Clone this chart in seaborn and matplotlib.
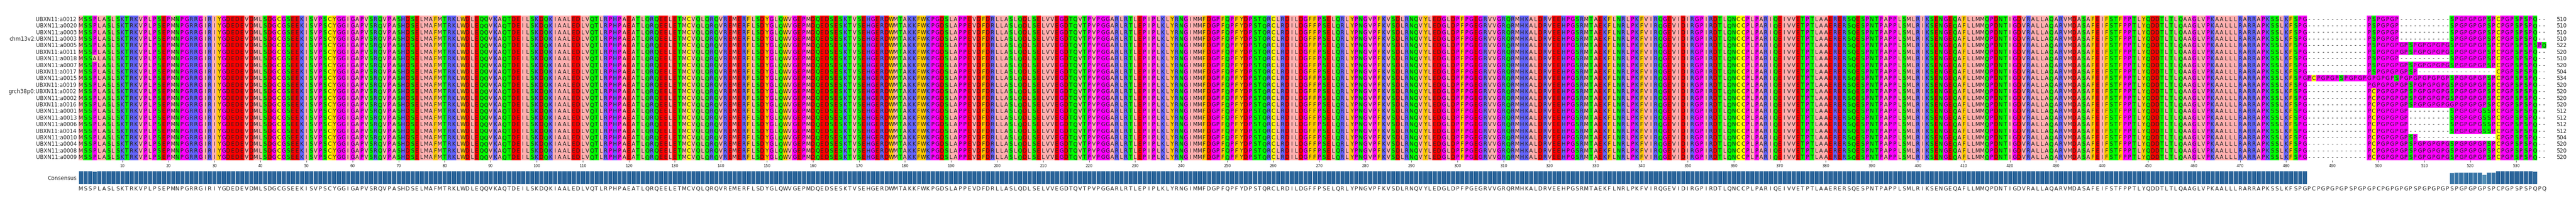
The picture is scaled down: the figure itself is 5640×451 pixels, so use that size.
import numpy as np
import matplotlib
matplotlib.use("Agg")
import matplotlib.pyplot as plt
from matplotlib.colors import ListedColormap
import seaborn as sns

NCOL = 536
names = ["UBXN11:a0012", "UBXN11:a0020", "UBXN11:a0003", "chm13v2:UBXN11:a0003",
         "UBXN11:a0005", "UBXN11:a0011", "UBXN11:a0018", "UBXN11:a0007",
         "UBXN11:a0017", "UBXN11:a0015", "UBXN11:a0019", "grch38p0:UBXN11:a0002",
         "UBXN11:a0002", "UBXN11:a0016", "UBXN11:a0001", "UBXN11:a0013",
         "UBXN11:a0006", "UBXN11:a0014", "UBXN11:a0010", "UBXN11:a0004",
         "UBXN11:a0008", "UBXN11:a0009"]
lengths = [510, 510, 510, 510, 522, 520, 510, 520, 504, 534, 520, 520,
           520, 520, 512, 512, 512, 512, 504, 520, 520, 520]

consensus = ("MSSPLASLSKTRKVPLPSEPMNPGRRGIRIYGDEDEVDMLSDGCGSEEKISVPSCYGGIGAPVSRQVPA"
             "SHDSELMAFMTRKLWDLEQQVKAQTDEILSKDQKIAALEDLVQTLRPHPAEATLQRQEELETMCVQLQR"
             "QVREMERFLSDYGLQWVGEPMDQEDSESKTVSEHGERDWMTAKKFWKPGDSLAPPEVDFDRLLASLQD"
             "LSELVVEGDTQVTPVPGGARLRTLEPIPLKLYRNGIMMFDGPFQPFYDPSTQRCLRDILDGFFPSELQR"
             "LYPNGVPFKVSDLRNQVYLEDGLDPFPGEGRVVGRQRMHKALDRVEEHPGSRMTAEKFLNRLPKFVIR"
             "QGEVIDIRGPIRDTLQNCCPLPARIQEIVVETPTLAAERERSQESPNTPAPPLSMLRIKSENGEQAFLL"
             "MMQPDNTIGDVRALLAQARVMDASAFEIFSTFPPTLYQDDTLTLQAAGLVPKAALLLRARRAPKSSLK"
             "FSPGPCPGPGPGPSPGPGPCPGPGPGPSPGPGPGPSPGPGPGPSPCPGPSPSPQPQ")

# shared body (columns 1-484) and per-row tails {start column: residues}
shared_body = consensus[:484]
end19 = "SPGPGPGPSPCPGPSPSPQ"
tail_short = {498: "PSPGPGP", 516: end19}
tail_S = {498: "PSPGPGPGPSPGPGPGPG" + end19}
tail_S5 = {498: "PSPGPGPGPSPGPGPGPG" + end19[:-1] + "SPQ"}
tail_G = {498: "PGPGPGPGPSPGPGPGPG" + end19}
tail_C = {498: "PCPGPGPGPSPGPGPGPG" + end19}
tail_C16 = {498: "PCPGPGPGPSPGPGPGPG" + "G" + end19[1:]}
tail_S9 = {498: "PSPGPGPGPSP", 526: "CPGPSPSPQ"}
tail_C9 = {498: "PCPGPGPGPSP", 526: "CPGPSPSPQ"}
tail_full = {485: "PCPGPGPSPGPGPGPGPGPSPGP" + "GPGPGPGP" + end19}
tail_512 = {498: "PCPGPGPGP", 516: "SPGPGPGSSPCPGPSPSPQ"}
row_tails = [tail_short, tail_short, tail_short, tail_short, tail_S5, tail_S,
             tail_short, tail_S, tail_S9, tail_full, tail_G, tail_C, tail_C,
             tail_C16, tail_512, tail_512, tail_512, tail_512, tail_C9,
             tail_C, tail_C, tail_C]
substitutions = {6: {4: "A"}}

rows = []
for i, tails in enumerate(row_tails):
    seq = list(shared_body + "-" * (NCOL - 484))
    for start, s in tails.items():
        for j, ch in enumerate(s):
            if start - 1 + j < NCOL:
                seq[start - 1 + j] = ch
    for col, ch in substitutions.get(i, {}).items():
        seq[col - 1] = ch
    rows.append(seq)
letters = np.array(rows)

groups = {"-": 0}
for ch in "AILVM": groups[ch] = 1
for ch in "FWY": groups[ch] = 2
for ch in "KRH": groups[ch] = 3
for ch in "DE": groups[ch] = 4
for ch in "STNQ": groups[ch] = 5
for ch in "PG": groups[ch] = 6
groups["C"] = 7
codes = np.vectorize(lambda c: groups.get(c, 0))(letters)
cmap = ListedColormap(["#ffffff", "#ffafaf", "#ffc800", "#6464ff", "#ff0000",
                       "#00ff00", "#ff00ff", "#ffff00"])

cons_letters = list(consensus[:NCOL])
conservation = np.array([(letters[:, j] == cons_letters[j]).sum() / len(rows)
                         for j in range(NCOL)])

sns.set_theme(style="white")
plt.rcParams["font.family"] = ["DejaVu Sans"]

W, H = 5640, 452
fig = plt.figure(figsize=(W / 100, H / 100), dpi=100)
x0 = 172 / W
x1 = 5575 / W
ax = fig.add_axes([x0, 1 - 352 / H, x1 - x0, 317 / H])
sns.heatmap(codes, ax=ax, cmap=cmap, vmin=-0.5, vmax=7.5, cbar=False,
            annot=letters, fmt="", annot_kws={"fontsize": 8.5, "color": "#222222"},
            xticklabels=False, yticklabels=names)
ax.set_yticklabels(names, rotation=0, fontsize=8.5)
ax.tick_params(axis="y", length=0, pad=3)
ticks = list(range(10, NCOL + 1, 10))
ax.set_xticks([t - 0.5 for t in ticks])
ax.set_xticklabels([str(t) for t in ticks], fontsize=6)
ax.tick_params(axis="x", length=3, width=0.6, pad=2, bottom=True)
for i, L in enumerate(lengths):
    ax.text(NCOL + 2.2, i + 0.5, str(L), ha="left", va="center", fontsize=8.5,
            color="#222222")

cax = fig.add_axes([x0, 1 - 404 / H, x1 - x0, 29 / H])
pal = [plt.cm.Blues(0.15 + 0.65 * c) for c in conservation]
sns.barplot(x=list(range(NCOL)), y=conservation, hue=list(range(NCOL)),
            palette=pal, legend=False, ax=cax, width=1.0, edgecolor="white",
            linewidth=0.6, dodge=False)
cax.set_xlim(-0.5, NCOL - 0.5)
cax.set_ylim(0, 1)
cax.set_xticks(range(NCOL))
cax.set_xticklabels(cons_letters, fontsize=8.5, color="#222222")
cax.tick_params(axis="x", length=0, pad=2)
cax.set_yticks([0.5])
cax.set_yticklabels(["Consensus"], fontsize=8.5)
cax.tick_params(axis="y", length=0, pad=3)
cax.set_xlabel("")
cax.set_ylabel("")
for s in cax.spines.values():
    s.set_visible(False)

fig.savefig("out.png", dpi=100)
